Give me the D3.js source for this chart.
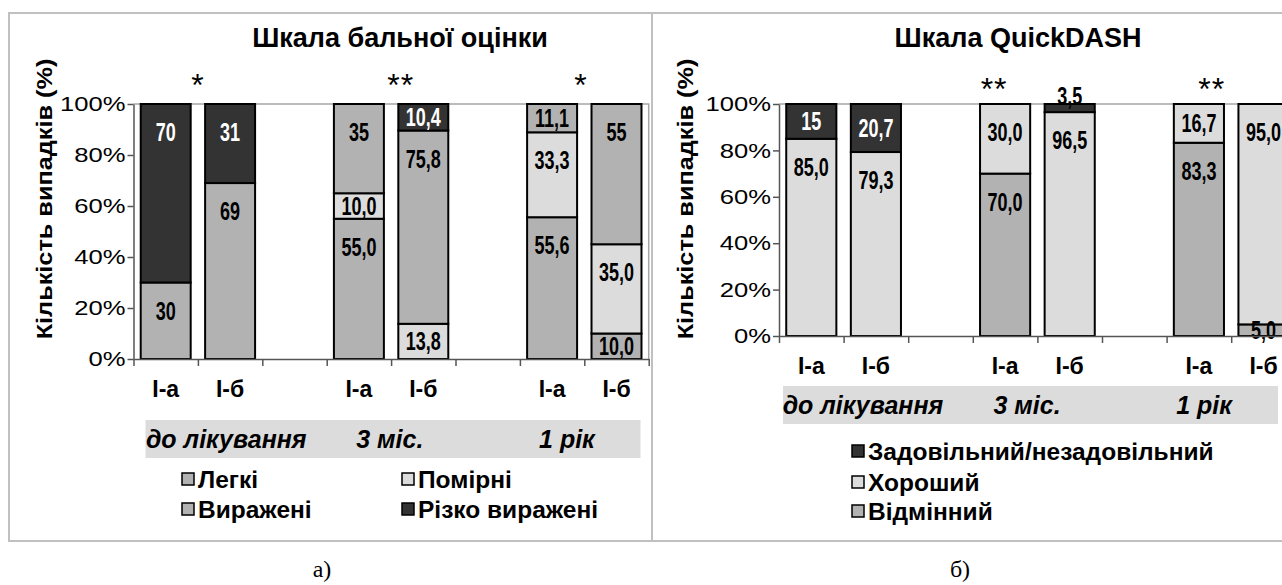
<!DOCTYPE html>
<html>
<head>
<meta charset="utf-8">
<script src="https://cdn.jsdelivr.net/npm/d3@7/dist/d3.min.js"></script>
<style>
  body { margin: 0; background: #fff; }
  svg { display: block; font-family: "Liberation Sans", Arial, sans-serif; }
</style>
</head>
<body>
<svg id="chart" width="1282" height="585"></svg>
<script>
// bar categories (third slot in each group is an empty spacer)
const barLabels = ['І-а', 'І-б', '', 'І-а', 'І-б', '', 'І-а', 'І-б'];
const periods = ['до лікування', '3 міс.', '1 рік'];

// panel a) - шкала бальної оцінки
const seriesA = ['Легкі', 'Помірні', 'Виражені', 'Різко виражені'];
const legkiVals      = [0, 0, 0, 55.0, 0, 0, 55.6, 10.0];
const pomirniVals    = [0, 0, 0, 10.0, 13.8, 0, 33.3, 35.0];
const vyrazheniVals  = [30, 69, 0, 35, 75.8, 0, 11.1, 55];
const rizkoVals      = [70, 31, 0, 0, 10.4, 0, 0, 0];
const legkiLabels     = ['', '', '', '55,0', '', '', '55,6', '10,0'];
const pomirniLabels   = ['', '', '', '10,0', '13,8', '', '33,3', '35,0'];
const vyrazheniLabels = ['30', '69', '', '35', '75,8', '', '11,1', '55'];
const rizkoLabels     = ['70', '31', '', '', '10,4', '', '', ''];
const starsA = ['*', '**', '*'];
const starPosA = [1.0, 4.15, 6.95];       // in band units
const periodPosA = [1.44, 3.98, 6.73];

// panel б) - шкала QuickDASH
const seriesB = ['Відмінний', 'Хороший', 'Задовільний/незадовільний'];
const vidminnyiVals = [0, 0, 0, 70.0, 0, 0, 83.3, 5.0];
const khoroshyiVals = [85.0, 79.3, 0, 30.0, 96.5, 0, 16.7, 95.0];
const zadovVals     = [15, 20.7, 0, 0, 3.5, 0, 0, 0];
const vidminnyiLabels = ['', '', '', '70,0', '', '', '83,3', '5,0'];
const khoroshyiLabels = ['85,0', '79,3', '', '30,0', '96,5', '', '16,7', '95,0'];
const zadovLabels     = ['15', '20,7', '', '', '3,5', '', '', ''];
const starsB = ['**', '**'];
const starPosB = [3.33, 6.7];
const periodPosB = [1.30, 3.84, 6.58];

const DARK = '#333333', MID = '#b2b2b2', LIGHT = '#dcdcdc';

const svg = d3.select('#chart');

function drawPanel(cfg) {
  const g = svg.append('g');

  // frame of the panel
  g.append('rect')
    .attr('x', cfg.frame[0]).attr('y', cfg.frame[1])
    .attr('width', cfg.frame[2]).attr('height', cfg.frame[3])
    .attr('fill', 'none').attr('stroke', '#c0c0c0').attr('stroke-width', 2);

  const n = barLabels.length;
  const x = d3.scaleBand().domain(d3.range(n)).range([cfg.x0, cfg.x0 + n * cfg.step]);
  const xl = d3.scaleLinear().domain([0, n]).range([cfg.x0, cfg.x0 + n * cfg.step]);
  const y = d3.scaleLinear().domain([0, 100]).range([cfg.bottom, cfg.top]);
  const barW = cfg.step * 0.776;

  // plot area outline (top + right)
  g.append('path')
    .attr('d', `M${cfg.x0},${cfg.top}H${xl(n)}V${cfg.bottom}`)
    .attr('fill', 'none').attr('stroke', '#a6a6a6').attr('stroke-width', 1.5);

  // stacked bars
  const stackData = d3.range(n).map(i => {
    const row = { i };
    cfg.series.forEach((s, k) => { row[s] = cfg.values[k][i]; });
    return row;
  });
  const stacked = d3.stack().keys(cfg.series)(stackData);

  stacked.forEach((layer, k) => {
    g.append('g').selectAll('rect')
      .data(layer.filter(d => d[1] - d[0] > 0))
      .join('rect')
      .attr('x', d => x(d.data.i) + (x.bandwidth() - barW) / 2)
      .attr('width', barW)
      .attr('y', d => y(d[1]))
      .attr('height', d => y(d[0]) - y(d[1]))
      .attr('fill', cfg.colors[k])
      .attr('stroke', '#000').attr('stroke-width', 2);
  });

  // value labels
  stacked.forEach((layer, k) => {
    g.append('g').selectAll('text')
      .data(layer.filter(d => d[1] - d[0] > 0))
      .join('text')
      .attr('transform', d => {
        const h = y(d[0]) - y(d[1]);
        let cy;
        if (h < 10 && d[1] >= 99.9) cy = y(d[1]) - 8;
        else if (h >= 56) cy = y(d[1]) + 28;
        else cy = (y(d[0]) + y(d[1])) / 2;
        return `translate(${x(d.data.i) + x.bandwidth() / 2},${cy}) scale(0.72,1)`;
      })
      .attr('text-anchor', 'middle')
      .attr('dy', '0.36em')
      .attr('font-size', 25).attr('font-weight', 'bold')
      .attr('fill', d => (cfg.colors[k] === DARK && (y(d[0]) - y(d[1])) >= 10) ? '#fff' : '#000')
      .text(d => cfg.labels[k][d.data.i]);
  });

  // y axis
  const ya = g.append('g')
    .attr('transform', `translate(${cfg.x0},0)`)
    .call(d3.axisLeft(y).tickValues([0, 20, 40, 60, 80, 100])
      .tickFormat(d => d + '%').tickSize(6).tickSizeOuter(0));
  ya.select('.domain').attr('stroke', '#555').attr('stroke-width', 1.5);
  ya.selectAll('.tick line').attr('stroke', '#555').attr('stroke-width', 1.5);
  ya.selectAll('.tick text')
    .attr('font-size', 21).attr('font-family', '"Liberation Sans", Arial, sans-serif')
    .attr('fill', '#000')
    .attr('x', -8 / 1.22)
    .attr('transform', 'scale(1.22,1)');

  // x axis: boundary ticks
  const xa = g.append('g')
    .attr('transform', `translate(0,${cfg.bottom})`)
    .call(d3.axisBottom(xl).tickValues(d3.range(0, n + 1)).tickFormat('').tickSize(7).tickSizeOuter(0));
  xa.select('.domain').attr('stroke', '#555').attr('stroke-width', 1.5);
  xa.selectAll('.tick line').attr('stroke', '#555').attr('stroke-width', 1.5);

  // bar category labels
  const xb = g.append('g')
    .attr('transform', `translate(0,${cfg.catY})`)
    .call(d3.axisBottom(x).tickFormat(i => barLabels[i]).tickSize(0));
  xb.select('.domain').remove();
  xb.selectAll('text').attr('font-size', 23).attr('font-weight', 'bold')
    .attr('font-family', '"Liberation Sans", Arial, sans-serif').attr('fill', '#000');

  // period band
  g.append('rect')
    .attr('x', xl(0) + cfg.bandInset).attr('y', cfg.periodY - 19)
    .attr('width', 495).attr('height', 38)
    .attr('fill', '#dcdcdc');
  g.selectAll('.period')
    .data(periods)
    .join('text')
    .attr('x', (d, i) => xl(cfg.periodPos[i]))
    .attr('y', cfg.periodY)
    .attr('dy', '0.36em')
    .attr('text-anchor', 'middle')
    .attr('font-size', 25).attr('font-weight', 'bold').attr('font-style', 'italic')
    .text(d => d);

  // significance marks
  g.selectAll('.star')
    .data(cfg.stars)
    .join('text')
    .attr('x', (d, i) => xl(cfg.starPos[i]))
    .attr('y', (d, i) => cfg.starY)
    .attr('text-anchor', 'middle')
    .attr('letter-spacing', 1)
    .attr('font-size', 32)
    .text(d => d);

  // title
  g.append('text')
    .attr('x', cfg.titleX).attr('y', 47)
    .attr('text-anchor', 'middle')
    .attr('font-size', 27).attr('font-weight', 'bold')
    .text(cfg.title);

  // y axis title
  g.append('text')
    .attr('transform', `translate(${cfg.yTitleX},199) rotate(-90) scale(1.15,1)`)
    .attr('text-anchor', 'middle')
    .attr('font-size', 22).attr('font-weight', 'bold')
    .text('Кількість випадків (%)');

  // legend
  const lg = g.append('g').selectAll('g')
    .data(cfg.legend)
    .join('g')
    .attr('transform', d => `translate(${d.x},${d.y})`);
  lg.append('rect')
    .attr('x', 0).attr('y', -6).attr('width', 12).attr('height', 12)
    .attr('fill', d => d.color).attr('stroke', '#000').attr('stroke-width', 1.5);
  lg.append('text')
    .attr('x', 16).attr('dy', '0.36em')
    .attr('font-size', 24.5).attr('font-weight', 'bold')
    .text(d => d.name);

  // caption
  g.append('text')
    .attr('x', cfg.captionX).attr('y', 577)
    .attr('text-anchor', 'middle')
    .attr('font-family', '"Liberation Serif", "Times New Roman", serif')
    .attr('font-size', 24)
    .text(cfg.caption);
}

drawPanel({
  frame: [9, 13, 643, 528],
  x0: 133.5, step: 64.4, top: 104, bottom: 359,
  series: seriesA,
  values: [legkiVals, pomirniVals, vyrazheniVals, rizkoVals],
  labels: [legkiLabels, pomirniLabels, vyrazheniLabels, rizkoLabels],
  colors: [MID, LIGHT, MID, DARK],
  catY: 378, periodY: 439, periodPos: periodPosA, bandInset: 12,
  stars: starsA, starPos: starPosA, starY: 96,
  title: 'Шкала бальної оцінки', titleX: 400, yTitleX: 52,
  legend: [
    { name: seriesA[0], color: MID, x: 182, y: 479 },
    { name: seriesA[1], color: LIGHT, x: 402, y: 479 },
    { name: seriesA[2], color: MID, x: 182, y: 509 },
    { name: seriesA[3], color: DARK, x: 402, y: 509 }
  ],
  caption: 'а)', captionX: 322
});

drawPanel({
  frame: [652, 13, 700, 528],
  x0: 779, step: 64.6, top: 104, bottom: 336,
  series: seriesB,
  values: [vidminnyiVals, khoroshyiVals, zadovVals],
  labels: [vidminnyiLabels, khoroshyiLabels, zadovLabels],
  colors: [MID, LIGHT, DARK],
  catY: 355, periodY: 405, periodPos: periodPosB, bandInset: 4,
  stars: starsB, starPos: starPosB, starY: 100,
  title: 'Шкала QuickDASH', titleX: 1018, yTitleX: 693,
  legend: [
    { name: seriesB[2], color: DARK, x: 852, y: 451 },
    { name: seriesB[1], color: LIGHT, x: 852, y: 482 },
    { name: seriesB[0], color: MID, x: 852, y: 511 }
  ],
  caption: 'б)', captionX: 960
});
</script>
</body>
</html>
